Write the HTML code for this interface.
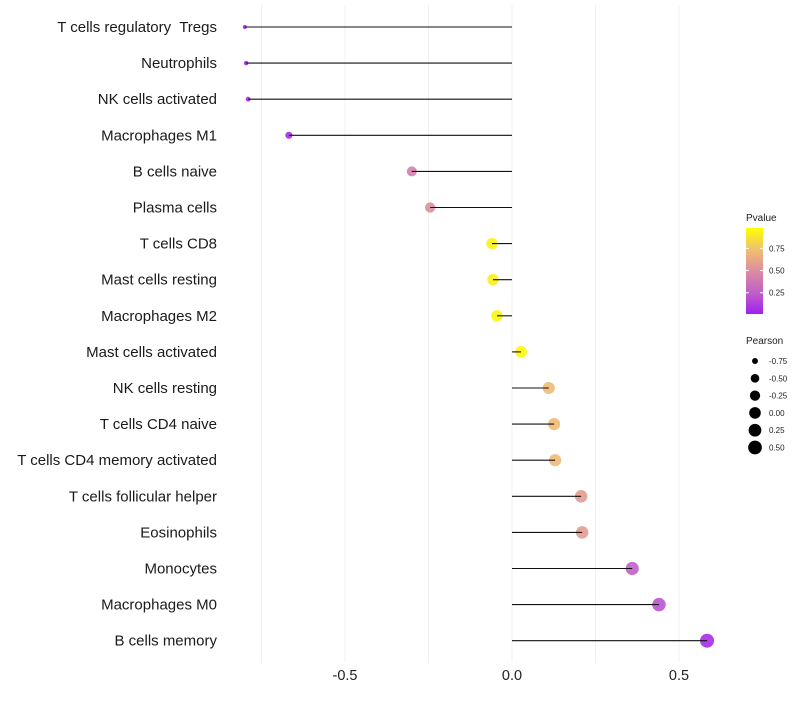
<!DOCTYPE html>
<html><head><meta charset="utf-8"><style>
body{margin:0;background:#fff;font-family:"Liberation Sans",sans-serif}
</style></head><body>
<svg id="c" width="800" height="700" xmlns="http://www.w3.org/2000/svg">
<defs><linearGradient id="g" x1="0" y1="1" x2="0" y2="0">
<stop offset="0" stop-color="#a020f0"/><stop offset="0.25" stop-color="#c060c8"/><stop offset="0.5" stop-color="#dc8ca0"/><stop offset="0.75" stop-color="#f0c070"/><stop offset="1" stop-color="#ffff00"/></linearGradient></defs>
</svg>
<script>
const cells=["T cells regulatory  Tregs","Neutrophils","NK cells activated","Macrophages M1","B cells naive","Plasma cells","T cells CD8","Mast cells resting","Macrophages M2","Mast cells activated","NK cells resting","T cells CD4 naive","T cells CD4 memory activated","T cells follicular helper","Eosinophils","Monocytes","Macrophages M0","B cells memory"];
const pearson=[-0.80,-0.796,-0.79,-0.668,-0.30,-0.245,-0.06,-0.057,-0.045,0.027,0.11,0.126,0.129,0.207,0.21,0.36,0.44,0.584];
const pvalue=[0.02,0.02,0.03,0.05,0.42,0.52,0.95,0.94,0.97,0.98,0.72,0.72,0.72,0.58,0.58,0.25,0.2,0.05];
const xTicks=[-0.5,0,0.5];
const xTickLabels=["-0.5","0.0","0.5"];
const gridX=[-0.75,-0.5,-0.25,0,0.25,0.5];
const pTicks=[0.25,0.5,0.75];
const sizeLegend=[-0.75,-0.5,-0.25,0,0.25,0.5];
const svg=document.getElementById('c');const NS="http://www.w3.org/2000/svg";
const x=v=>512+v*334;
const y=i=>27+i*36.1;
const r=v=>2+5*Math.sqrt(Math.max(0,(v+0.8)/1.38));
const stops=[[0,[160,32,240]],[0.25,[192,96,200]],[0.5,[220,140,160]],[0.75,[240,192,112]],[1,[255,255,0]]];
function col(p){for(let k=1;k<stops.length;k++){if(p<=stops[k][0]){const a=stops[k-1],b=stops[k],t=(p-a[0])/(b[0]-a[0]);return 'rgb('+a[1].map((c,j)=>Math.round(c+(b[1][j]-c)*t)).join(',')+')';}}return 'rgb(255,255,0)';}
function el(t,a,txt){const e=document.createElementNS(NS,t);for(const k in a)e.setAttribute(k,a[k]);if(txt!==undefined)e.textContent=txt;svg.appendChild(e);return e;}
gridX.forEach(v=>{const e=el('line',{x1:x(v),x2:x(v),y1:5,y2:662,stroke:'#f0f0f0','stroke-width':1});

});
xTicks.forEach((v,i)=>{const e=el('text',{x:x(v),y:680,'text-anchor':'middle','font-size':14.5,fill:'#222'},xTickLabels[i]);

});
cells.forEach((c,i)=>{
const t=el('text',{x:217,y:y(i)+5,'text-anchor':'end','font-size':15,fill:'#1a1a1a',style:'white-space:pre'},c);


const p=el('circle',{cx:x(pearson[i]),cy:y(i),r:r(pearson[i]),fill:col(pvalue[i]),'fill-opacity':0.9});


const l=el('line',{x1:x(0),x2:x(pearson[i]),y1:y(i),y2:y(i),stroke:'#111','stroke-width':1.1});


});
const lt=el('text',{x:746,y:221,'font-size':10,fill:'#222'},'Pvalue');


const bar=el('rect',{x:746,y:228,width:17,height:86,fill:'url(#g)'});


const py=p=>314-(p-0.01)/0.97*86;
pTicks.forEach(p=>{el('line',{x1:746,x2:749,y1:py(p),y2:py(p),stroke:'#fff'});el('line',{x1:760,x2:763,y1:py(p),y2:py(p),stroke:'#fff'});
const t=el('text',{x:769,y:py(p)+3,'font-size':8,fill:'#222'},p.toFixed(2));

});
const st=el('text',{x:746,y:344,'font-size':10,fill:'#222'},'Pearson');


sizeLegend.forEach((v,i)=>{const cy=361+i*17.3;
const c=el('circle',{cx:755,cy:cy,r:r(v),fill:'#000'});


const t=el('text',{x:769,y:cy+3,'font-size':8,fill:'#222'},v.toFixed(2));

});
</script>
</body></html>
